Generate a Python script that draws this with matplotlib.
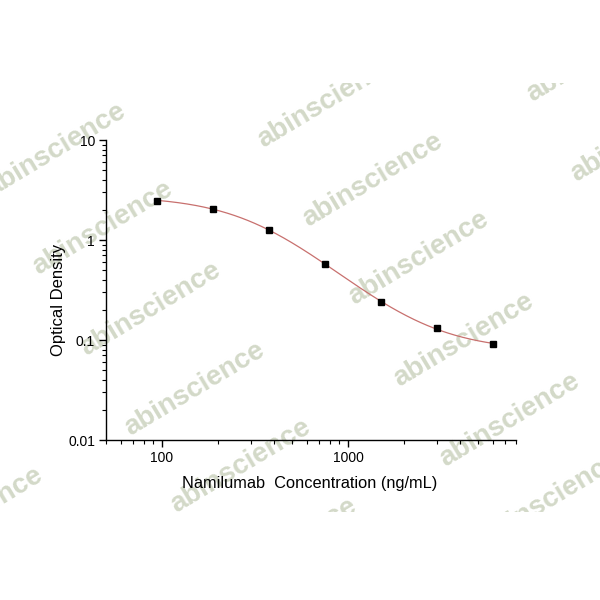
import numpy as np
import matplotlib
matplotlib.use("Agg")
import matplotlib.pyplot as plt
from matplotlib.ticker import FixedLocator, FixedFormatter, LogLocator, NullFormatter
from matplotlib.transforms import Bbox

plt.rcParams['font.family'] = ['Liberation Sans', 'DejaVu Sans']

# ---- data ----
concentration = [93.75, 187.5, 375, 750, 1500, 3000, 6000]
od_values = [2.48, 2.05, 1.26, 0.578, 0.241, 0.131, 0.0916]
x_label = "Namilumab  Concentration (ng/mL)"
y_label = "Optical Density"
y_ticks = [0.01, 0.1, 1, 10]
y_tick_labels = ["0.01", "0.1", "1", "10"]
x_ticks = [100, 1000]
x_tick_labels = ["100", "1000"]
watermark = "abinscience"

# ---- 4PL fit (in log space) ----
x = np.array(concentration, float)
y = np.array(od_values, float)

def f4pl(p, xx):
    A, D, C, B = p
    return D + (A - D) / (1.0 + (xx / C) ** B)

def resid(p):
    return np.log(f4pl(p, x)) - np.log(y)

p = np.array([2.6, 0.07, 600.0, 1.2])
lam = 1e-3
for _ in range(300):
    r = resid(p)
    J = np.zeros((len(x), 4))
    for k in range(4):
        dp = np.zeros(4); dp[k] = 1e-6 * max(abs(p[k]), 1e-3)
        J[:, k] = (resid(p + dp) - r) / dp[k]
    H = J.T @ J
    g = J.T @ r
    step = np.linalg.solve(H + lam * np.diag(np.diag(H)), -g)
    pn = p + step
    if pn[1] > 0 and pn[2] > 0 and np.sum(resid(pn) ** 2) < np.sum(r ** 2):
        p = pn; lam *= 0.5
    else:
        lam *= 4

xs = np.logspace(np.log10(x.min()), np.log10(x.max()), 300)
ys = f4pl(p, xs)

# ---- figure ----
fig = plt.figure(figsize=(6, 6), dpi=100)
ax = fig.add_axes([106/600, 1-440/600, 410/600, 300/600])
ax.patch.set_alpha(0)

# watermarks (figure pixel centers)
wm_centers = [(56, 150), (103, 228), (151, 309), (195, 389), (241, 466), (287, 545),
              (328, 101), (373, 180), (419, 258), (464, 340), (510, 420), (551, 499),
              (-27, 514), (641, 135), (597, 55)]
clip = Bbox.from_extents(0, 600-512, 600, 600-83)
for cx, cy in wm_centers:
    t = fig.text(cx/600, 1-cy/600, watermark, fontsize=20, fontweight='bold',
                 color='#d3d9c8', rotation=31, rotation_mode='anchor',
                 ha='center', va='center', zorder=-5, family='Liberation Sans')
    t.set_clip_box(clip)
    t.set_clip_on(True)

ax.plot(xs, ys, color='#c8706e', lw=0.9, zorder=2)
ax.plot(x, y, 's', color='black', ms=5, zorder=3)

ax.set_xscale('log')
ax.set_yscale('log')
ax.set_xlim(50, 8000)
ax.set_ylim(0.01, 10)

ax.spines['top'].set_visible(False)
ax.spines['right'].set_visible(False)
for s in ('left', 'bottom'):
    ax.spines[s].set_linewidth(1.0)

ax.yaxis.set_major_locator(FixedLocator(y_ticks))
ax.yaxis.set_major_formatter(FixedFormatter(y_tick_labels))
ax.xaxis.set_major_locator(FixedLocator(x_ticks))
ax.xaxis.set_major_formatter(FixedFormatter(x_tick_labels))
ax.xaxis.set_minor_locator(LogLocator(base=10, subs=np.arange(2, 10)))
ax.yaxis.set_minor_locator(LogLocator(base=10, subs=np.arange(2, 10)))
ax.xaxis.set_minor_formatter(NullFormatter())
ax.yaxis.set_minor_formatter(NullFormatter())

ax.tick_params(which='major', direction='out', length=5, width=1, labelsize=10, pad=3)
ax.tick_params(which='minor', direction='out', length=3, width=0.8)

ax.set_xlabel(x_label, fontsize=11.8)
ax.set_ylabel(y_label, fontsize=12)
ax.xaxis.set_label_coords(0.496, -0.12)
ax.yaxis.set_label_coords(-0.097, 0.467)

fig.savefig("out.png", dpi=100, facecolor='white')
